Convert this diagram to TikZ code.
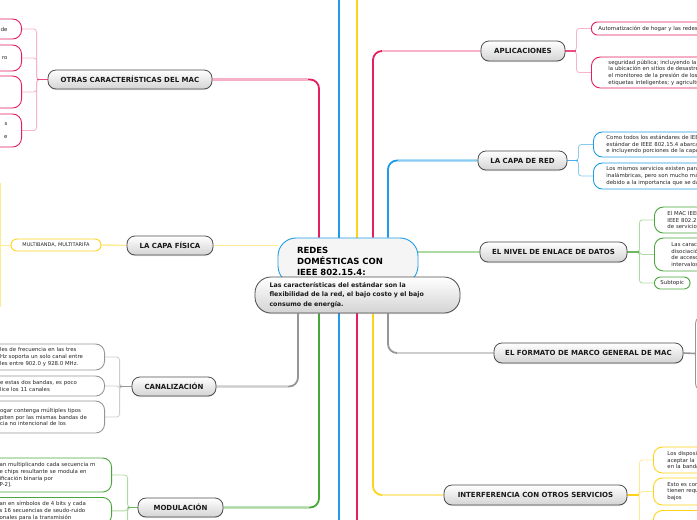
\documentclass[tikz,border=0pt]{standalone}
\usepackage{fontspec}
\setmainfont{DejaVu Sans}
\usetikzlibrary{shadows}
\definecolor{mpk}{RGB}{229,31,92}
\definecolor{mpkL}{RGB}{247,178,204}
\definecolor{mbl}{RGB}{32,156,230}
\definecolor{mblL}{RGB}{135,202,242}
\definecolor{mye}{RGB}{255,211,25}
\definecolor{myeL}{RGB}{255,234,150}
\definecolor{mgr}{RGB}{72,166,58}
\definecolor{mgrL}{RGB}{172,218,162}
\definecolor{mgy}{RGB}{150,150,150}
\definecolor{mgyL}{RGB}{205,205,205}
\pgfdeclarelayer{back}
\pgfsetlayers{back,main}

\begin{document}
\begin{tikzpicture}[x=1pt,y=-1pt,
  topic/.style={draw=black!70,line width=0.8pt,rounded corners=8pt,top color=white,bottom color=black!17,
    font=\fontsize{7}{8}\selectfont\bfseries,text=black!90,inner sep=0pt,
    drop shadow={shadow xshift=0pt,shadow yshift=-1pt,opacity=0.25}},
  leaf/.style={draw,line width=0.9pt,rounded corners=9pt,fill=white,
    font=\fontsize{5.4}{6.7}\selectfont,text=black!85,inner ysep=0pt},
  trunk/.style={line width=1.8pt,rounded corners=9pt},
  twig/.style={line width=0.8pt,rounded corners=3pt},
  stem/.style={line width=1.6pt},
  fade/.style={line width=1.5pt}]
\useasboundingbox (0,0) rectangle (697,520);
\clip (0,0) rectangle (697,520);

% centre
\node[draw=mbl,line width=0.9pt,rounded corners=18pt,fill=black!4,minimum width=140pt,minimum height=46pt,
  text width=102pt,align=left,font=\fontsize{8.5}{11}\selectfont\bfseries] (cen) at (348,261)
  {REDES\\DOMÉSTICAS CON\\IEEE 802.15.4:};
\node[topic,rounded corners=16pt,minimum width=205pt,minimum height=36pt,text width=176pt,align=left,
  font=\fontsize{6.3}{9.5}\selectfont\bfseries] (sub) at (357.5,295)
  {Las características del estándar son la\\flexibilidad de la red, el bajo costo y el bajo\\consumo de energía.};

% main topics
\node[topic,minimum width=164pt,minimum height=19pt] (otras) at (130,79.5) {OTRAS CARACTERÍSTICAS DEL MAC};
\node[topic,minimum width=86pt,minimum height=19pt] (fisica) at (170,245.5) {LA CAPA FÍSICA};
\node[topic,minimum width=84pt,minimum height=19pt] (canal) at (174,386.5) {CANALIZACIÓN};
\node[topic,minimum width=85pt,minimum height=19pt] (modul) at (180.5,507.5) {MODULACIÓN};
\node[topic,minimum width=84pt,minimum height=20pt] (apl) at (523,51) {APLICACIONES};
\node[topic,minimum width=89pt,minimum height=19pt] (red) at (522.5,160.5) {LA CAPA DE RED};
\node[topic,minimum width=147pt,minimum height=20pt] (enlace) at (553.5,252) {EL NIVEL DE ENLACE DE DATOS};
\node[topic,minimum width=189pt,minimum height=20pt] (formato) at (588.5,353) {EL FORMATO DE MARCO GENERAL DE MAC};
\node[topic,minimum width=183pt,minimum height=20pt] (inter) at (535.5,495) {INTERFERENCIA CON OTROS SERVICIOS};

% left leaves
\node[leaf,draw=mpk,anchor=east,inner xsep=14pt,text width=30pt,align=right,minimum height=20pt] (o1) at (22,29) {ade};
\node[leaf,draw=mpk,anchor=east,inner xsep=14pt,text width=30pt,align=right,minimum height=26pt] (o2) at (22,58) {ro};
\node[leaf,draw=mpk,anchor=east,inner xsep=14pt,text width=30pt,align=right,minimum height=32pt] (o3) at (22,92) {};
\node[leaf,draw=mpk,anchor=east,inner xsep=14pt,text width=30pt,align=right,minimum height=33pt] (o4) at (22,130.5) {s\\[6pt]e};

\node[leaf,draw=mye,rounded corners=6pt,minimum width=90pt,minimum height=12pt,inner xsep=4pt,
  font=\fontsize{5}{6}\selectfont] (multi) at (56,245) {MULTIBANDA, MULTITARIFA};

\node[leaf,draw=mgy,anchor=east,inner xsep=10pt,text width=94.5pt,align=left,minimum height=26pt] (c1) at (105,357)
  {les de frecuencia en las tres\\Hz soporta un solo canal entre\\les entre 902.0 y 928.0 MHz.};
\node[leaf,draw=mgy,anchor=east,inner xsep=10pt,text width=94.5pt,align=left,minimum height=20pt] (c2) at (105,386)
  {e estas dos bandas, es poco\\lice los 11 canales};
\node[leaf,draw=mgy,anchor=east,inner xsep=10pt,text width=94.5pt,align=left,minimum height=32pt] (c3) at (105,417)
  {ogar contenga múltiples tipos\\piten por las mismas bandas de\\cia no intencional de los\\};

\node[leaf,draw=mgr,anchor=east,inner xsep=10pt,text width=102pt,align=left,minimum height=34pt] (m1) at (112,475)
  {an multiplicando cada secuencia m\\e chips resultante se modula en\\ificación binaria por\\P-2].};
\node[leaf,draw=mgr,anchor=north east,inner xsep=10pt,inner ysep=4pt,text width=102pt,align=left] (m2) at (112,497)
  {an en símbolos de 4 bits y cada\\s 16 secuencias de seudo-ruido\\onales para la transmisión};

% right leaves
\node[leaf,draw=mpk,anchor=west,rounded corners=6pt,inner xsep=7pt,text width=150pt,align=left,minimum height=13pt] (a1) at (591,28.5)
  {Automatización de hogar y las redes};
\node[leaf,draw=mpk,anchor=west,inner xsep=17pt,text width=150pt,align=left,minimum height=31pt] (a2) at (591,72.5)
  {seguridad pública; incluyendo la\\la ubicación en sitios de desastre\\el monitoreo de la presión de los\\etiquetas inteligentes; y agricultura};
\node[leaf,draw=mbl,anchor=west,inner xsep=13pt,text width=150pt,align=left,minimum height=25pt] (r1) at (593,144.5)
  {Como todos los estándares de IEEE\\estándar de IEEE 802.15.4 abarca\\e incluyendo porciones de la capa};
\node[leaf,draw=mbl,anchor=west,inner xsep=13pt,text width=150pt,align=left,minimum height=26pt] (r2) at (593,176)
  {Los mismos servicios existen para\\inalámbricas, pero son mucho más\\debido a la importancia que se da};
\node[leaf,draw=mgr,anchor=west,inner xsep=13pt,text width=100pt,align=left,minimum height=26pt] (e1) at (654,220)
  {El MAC IEEE\\IEEE 802.2\\de servicio};
\node[leaf,draw=mgr,anchor=west,inner xsep=17pt,text width=100pt,align=left,minimum height=33pt] (e2) at (654,254.5)
  {Las características\\disociación\\de acceso\\intervalos};
\node[leaf,draw=mgr,anchor=west,rounded corners=6pt,inner xsep=6pt,minimum height=12pt] (e3) at (654,283) {Subtopic};
\node[leaf,draw=mgy,anchor=west,minimum width=40pt,minimum height=77pt] (f1) at (695,353.5) {};
\node[leaf,draw=mye,anchor=west,inner xsep=14pt,text width=100pt,align=left,minimum height=26pt] (i1) at (653,460)
  {Los dispositivos\\aceptar la interferencia\\en la banda};
\node[leaf,draw=mye,anchor=west,inner xsep=14pt,text width=100pt,align=left,minimum height=27pt] (i2) at (653,491.5)
  {Esto es con\\tienen requisitos\\bajos};
\node[leaf,draw=mye,anchor=north west,inner xsep=15pt,inner ysep=4pt,text width=100pt,align=left,minimum height=30pt] (i3) at (653,510)
  {Por el contrario};

\begin{pgfonlayer}{back}
% trunks from the centre
\draw[trunk,mpk] ([xshift=-29pt]cen.north) |- (otras.east);
\draw[fade,mpkL] (otras.east) -- ++(96,0);
\draw[trunk,mbl] ([xshift=-9pt]cen.north) -- ++(0,-242);
\draw[trunk,mye] ([xshift=9pt]cen.north) -- ++(0,-242);
\draw[trunk,mpk] ([xshift=25pt]cen.north) |- (apl.west);
\draw[fade,mpkL] (apl.west) -- ++(-99,0);
\draw[trunk,mbl] ([xshift=40pt]cen.north) |- (red.west);
\draw[fade,mblL] (red.west) -- ++(-80,0);
\draw[fade,myeL] (fisica.east) -- (fisica.east -| cen.west);
\draw[fade,mgrL] (enlace.west) -- (enlace.west -| cen.east);
\draw[trunk,mgy] ([xshift=-59.5pt]sub.south) |- (canal.east);
\draw[fade,mgyL] (canal.east) -- ++(72,0);
\draw[trunk,mgr] ([xshift=-38.5pt]sub.south) |- (modul.east);
\draw[fade,mgrL] (modul.east) -- ++(86,0);
\draw[trunk,mbl] ([xshift=-18.5pt]sub.south) -- ++(0,220);
\draw[trunk,mpk] ([xshift=-0.5pt]sub.south) -- ++(0,220);
\draw[trunk,mye] ([xshift=15.5pt]sub.south) |- (inter.west);
\draw[fade,myeL] (inter.west) -- ++(-62,0);
\draw[trunk,mgy] ([xshift=30.5pt]sub.south) |- (formato.west);
\draw[fade,mgyL] (formato.west) -- ++(-97,0);

% brackets to the leaves
\foreach \c in {o1,o2,o3,o4} \draw[twig,mpkL] (otras.west) -- ++(-11,0) |- (\c.east);
\draw[stem,mpk!80] (otras.west) -- ++(-11,0);
\draw[fade,myeL] (fisica.west) -- (multi.east);
\draw[twig,myeL] (multi.west) -- ++(-10,0) coordinate (mb);
\draw[line width=1.2pt,myeL] (mb) ++(0,-62) -- ++(0,124);
\foreach \c in {c1,c2,c3} \draw[twig,mgyL] (canal.west) -- ++(-12,0) |- (\c.east);
\draw[stem,mgy] (canal.west) -- ++(-12,0);
\foreach \c in {m1,m2} \draw[twig,mgrL] (modul.west) -- ++(-10,0) |- (\c.east);
\draw[twig,mgrL] (modul.west) -- ++(-10,0) -- ++(0,20);
\draw[stem,mgr!80] (modul.west) -- ++(-10,0);
\foreach \c in {a1,a2} \draw[twig,mpkL] (apl.east) -- ++(11,0) |- (\c.west);
\draw[stem,mpk!80] (apl.east) -- ++(11,0);
\foreach \c in {r1,r2} \draw[twig,mblL] (red.east) -- ++(11,0) |- (\c.west);
\draw[stem,mbl!80] (red.east) -- ++(11,0);
\foreach \c in {e1,e2,e3} \draw[twig,mgrL] (enlace.east) -- ++(12,0) |- (\c.west);
\draw[stem,mgr!80] (enlace.east) -- ++(12,0);
\draw[stem,mgy] (formato.east) -- (f1.west);
\foreach \c in {i1,i2,i3} \draw[twig,myeL] (inter.east) -- ++(12,0) |- (\c.west);
\draw[twig,myeL] (inter.east) -- ++(12,0) -- ++(0,30);
\draw[stem,mye] (inter.east) -- ++(12,0);
\end{pgfonlayer}
\end{tikzpicture}
\end{document}
